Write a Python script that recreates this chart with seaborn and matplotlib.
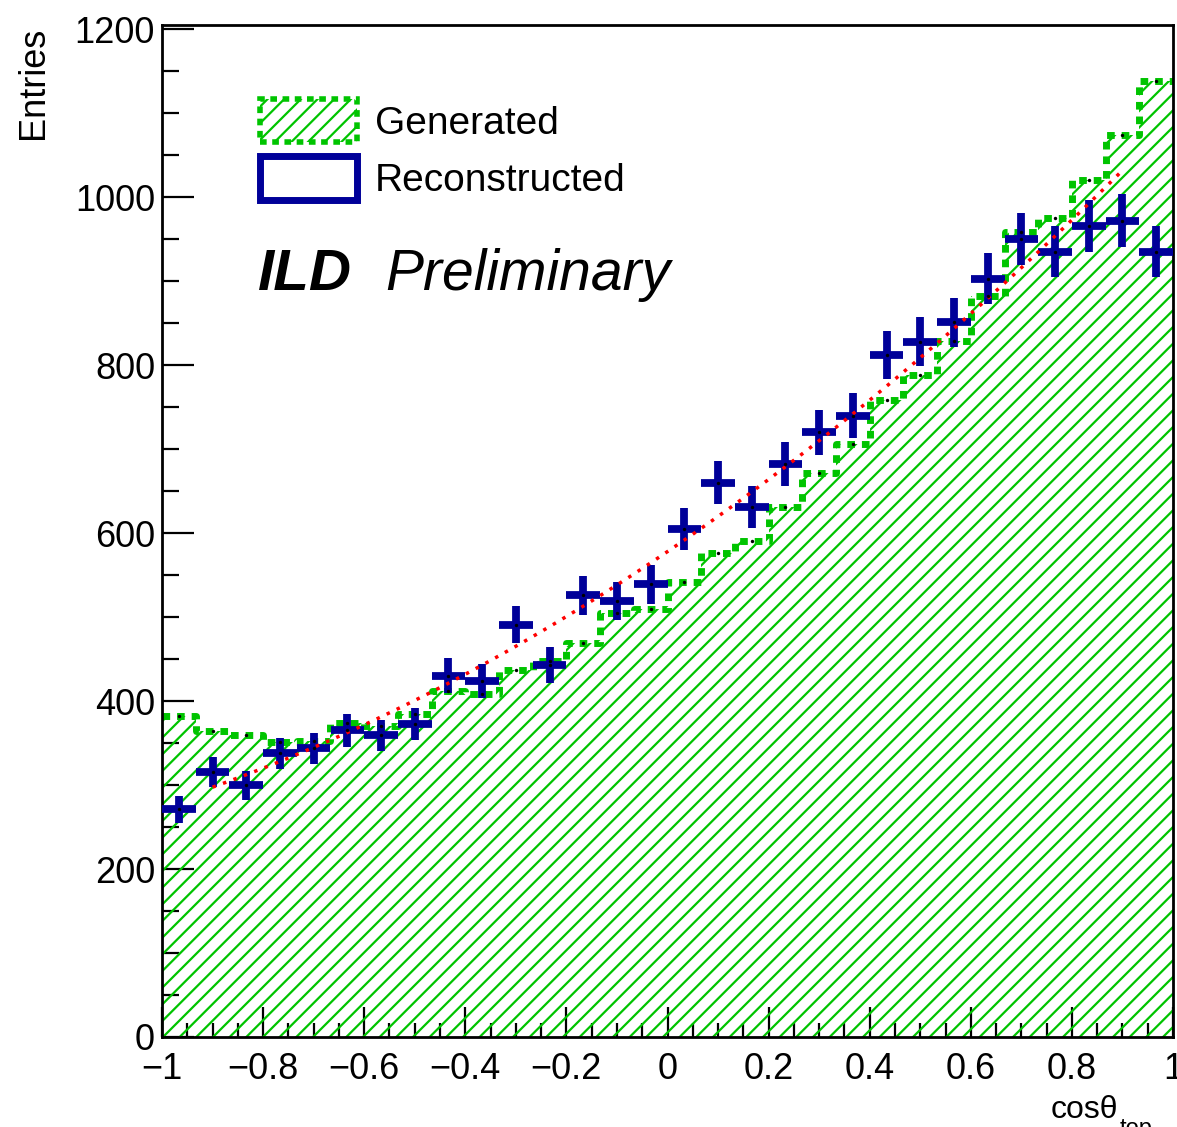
import numpy as np
import pandas as pd
import matplotlib
matplotlib.use("Agg")
import matplotlib.pyplot as plt
import seaborn as sns
from matplotlib.patches import Patch
from matplotlib.ticker import FixedLocator, FixedFormatter, MultipleLocator

# ---------------- data ----------------
n_bins = 30
x_range = (-1.0, 1.0)
generated = [382, 364, 360, 351, 353, 374, 370, 385, 412, 408,
             437, 448, 469, 505, 510, 542, 576, 590, 631, 672,
             706, 758, 788, 829, 882, 958, 975, 1020, 1074, 1138]
reconstructed = [271, 316, 300, 338, 344, 365, 359, 373, 430, 424,
                 491, 443, 526, 519, 539, 605, 660, 631, 682, 720,
                 740, 812, 828, 851, 903, 950, 935, 966, 972, 935]
# quadratic fit drawn in red: a*x^2 + b*x + c over fit_range
fit_coeffs = [107.0, 408.0, 578.0]
fit_range = (-0.9, 0.9)

xtick_values = [-1, -0.8, -0.6, -0.4, -0.2, 0, 0.2, 0.4, 0.6, 0.8, 1]
xtick_labels = ["\u22121", "\u22120.8", "\u22120.6", "\u22120.4", "\u22120.2",
                "0", "0.2", "0.4", "0.6", "0.8", "1"]
ytick_values = [0, 200, 400, 600, 800, 1000, 1200]
ytick_labels = ["0", "200", "400", "600", "800", "1000", "1200"]
legend_labels = ["Generated", "Reconstructed"]

# ---------------- style ----------------
sns.set_theme(style="white")
plt.rcParams["font.family"] = ["Liberation Sans", "DejaVu Sans"]
plt.rcParams["hatch.linewidth"] = 1.6
plt.rcParams["axes.unicode_minus"] = True
plt.rcParams["text.color"] = "black"
plt.rcParams["xtick.color"] = "black"
plt.rcParams["ytick.color"] = "black"
plt.rcParams["xtick.labelcolor"] = "black"
plt.rcParams["ytick.labelcolor"] = "black"

GREEN = "#00c400"
NAVY = "#000099"

W, H = 1177, 1127
fig = plt.figure(figsize=(W / 100, H / 100), dpi=100)
ax = fig.add_axes([162 / W, 1 - 1037 / H, (1173 - 162) / W, (1037 - 25) / H])

edges = np.linspace(x_range[0], x_range[1], n_bins + 1)
centers = 0.5 * (edges[:-1] + edges[1:])
half_w = 0.5 * (edges[1] - edges[0])
bin_list = [float(e) for e in edges]

df = pd.DataFrame({"x": centers, "gen": generated, "reco": reconstructed})

# generated: hatched fill
n_before = len(ax.collections)
sns.histplot(data=df, x="x", weights="gen", bins=bin_list, element="step",
             fill=True, color=GREEN, alpha=1, linewidth=0, ax=ax)
for coll in ax.collections[n_before:]:
    coll.set_facecolor("none")
    coll.set_edgecolor(GREEN)
    coll.set_hatch("//")
    coll.set_linewidth(0)
    coll.set_zorder(1)

# generated: thick dotted outline
sns.histplot(data=df, x="x", weights="gen", bins=bin_list, element="step",
             fill=False, color=GREEN, linewidth=5, linestyle=(0, (1.1, 1.0)),
             ax=ax, zorder=2)

# reconstructed: crosses
ax.errorbar(df["x"], df["reco"], xerr=half_w, yerr=np.sqrt(df["reco"]),
            fmt="none", ecolor=NAVY, elinewidth=5.6, capsize=0, zorder=3)

# fit
fx = np.linspace(fit_range[0], fit_range[1], 300)
fy = np.polyval(fit_coeffs, fx)
sns.lineplot(x=fx, y=fy, color="red", linewidth=2.5, linestyle=(0, (1, 2.2)),
             ax=ax, zorder=4)

# small black markers at bin centres
sns.scatterplot(data=df, x="x", y="gen", color="black", s=6, linewidth=0,
                ax=ax, zorder=5, legend=False)
sns.scatterplot(data=df, x="x", y="reco", color="black", s=6, linewidth=0,
                ax=ax, zorder=5, legend=False)

# ---------------- axes ----------------
ax.set_xlim(*x_range)
ax.set_ylim(0, 1205)
ax.set_xlabel("")
ax.set_ylabel("")
ax.xaxis.set_major_locator(FixedLocator(xtick_values))
ax.xaxis.set_major_formatter(FixedFormatter(xtick_labels))
ax.yaxis.set_major_locator(FixedLocator(ytick_values))
ax.yaxis.set_major_formatter(FixedFormatter(ytick_labels))
ax.xaxis.set_minor_locator(MultipleLocator(0.05))
ax.yaxis.set_minor_locator(MultipleLocator(50))
ax.tick_params(which="both", direction="in", top=False, right=False,
               bottom=True, left=True, width=1.6, color="black",
               labelcolor="black")
ax.tick_params(axis="x", which="major", length=21.5, pad=11, labelsize=26)
ax.tick_params(axis="x", which="minor", length=10)
ax.tick_params(axis="y", which="major", length=23, pad=5, labelsize=26)
ax.tick_params(axis="y", which="minor", length=12)
for s in ax.spines.values():
    s.set_visible(True)
    s.set_color("black")
    s.set_linewidth(2)

# ---------------- legend & texts ----------------
handles = [
    Patch(facecolor="none", edgecolor=GREEN, hatch="//", linewidth=4,
          linestyle=(0, (1.2, 1.0))),
    Patch(facecolor="none", edgecolor=NAVY, linewidth=5),
]
leg = ax.legend(handles, legend_labels, loc="upper left",
                bbox_to_anchor=(260 / W, 1 - 99 / H),
                bbox_transform=fig.transFigure,
                frameon=False, fontsize=28, handlelength=2.5, handleheight=1.34,
                handletextpad=0.46, labelspacing=0.36, borderpad=0,
                borderaxespad=0)
for t in leg.get_texts():
    t.set_color("black")

fig.text(258 / W, 1 - 290 / H, "ILD", fontsize=42, fontweight="bold",
         style="italic", va="baseline", ha="left", color="black")
fig.text(385 / W, 1 - 290 / H, "Preliminary", fontsize=41, style="italic",
         va="baseline", ha="left", color="black")

fig.text(34 / W, 1 - 27 / H, "Entries", rotation=90, fontsize=26,
         ha="center", va="top", color="black")
fig.text(1118 / W, 1 - 1118 / H, "cos\u03b8", fontsize=23, ha="right",
         va="baseline", color="black")
fig.text(1120 / W, 1 - 1135 / H, "top", fontsize=17, ha="left",
         va="baseline", color="black")

fig.savefig("out.png", dpi=100)
